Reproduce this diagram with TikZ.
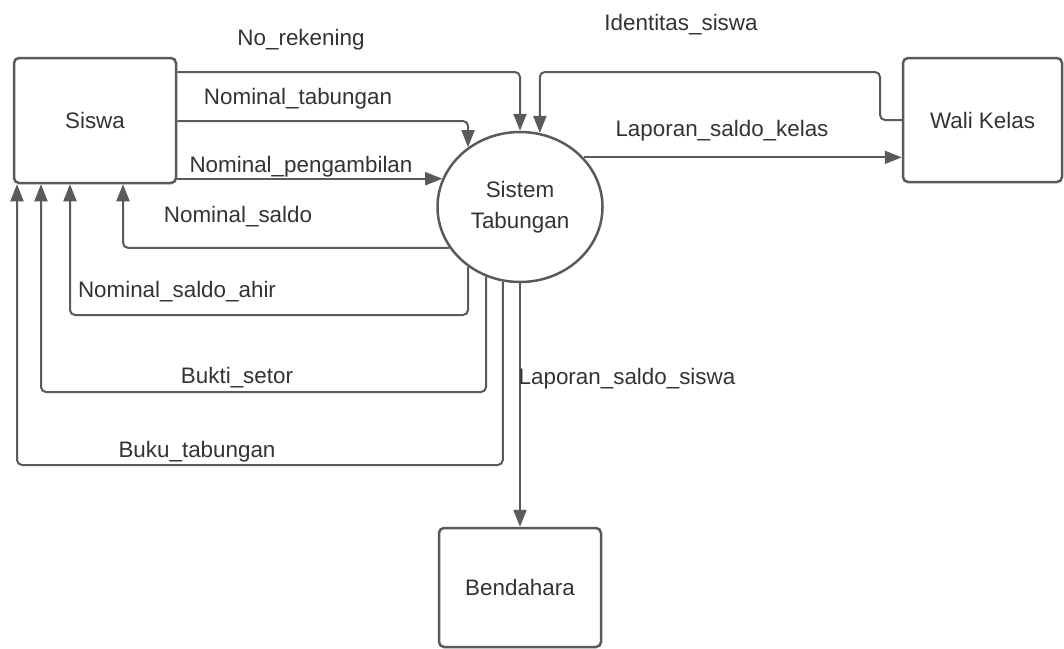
\documentclass[tikz,border=0pt]{standalone}
\usepackage{fontspec}
\setmainfont{Liberation Sans}
\usepackage{tikz}
\usetikzlibrary{arrows.meta,positioning,shapes.geometric}
\definecolor{linegray}{HTML}{5A5A5A}
\definecolor{textgray}{HTML}{333333}

\begin{document}
\begin{tikzpicture}[
  x=1pt,y=-1pt,
  font=\fontsize{22.4}{31}\selectfont,
  text=textgray,
  ent/.style={draw=linegray,line width=2.5pt,rounded corners=5pt,inner sep=0pt},
  proc/.style={ellipse,draw=linegray,line width=2.5pt,minimum width=165pt,minimum height=150pt,inner sep=0pt,align=center},
  lbl/.style={inner sep=0pt},
  arr/.style={-{Triangle[length=17pt,width=13pt]},line width=2pt,draw=linegray,rounded corners=5pt}
]
\useasboundingbox (0,0) rectangle (1064,648);

% entitas dan proses
\node[ent,minimum width=162pt,minimum height=125pt] (siswa) at (95,120.5) {Siswa};
\node[proc] (sistem) at (520,207) {Sistem\\Tabungan};
\node[ent,minimum width=159pt,minimum height=124pt] (wali) at (982.5,120) {Wali Kelas};
\node[ent,minimum width=162pt,minimum height=119pt] (bend) at (520,587.5) {Bendahara};

% aliran data
\draw[arr] (siswa.east |- 0,72) -| (sistem.north);
\draw[arr] (wali.west |- 0,120) -| (880,72) -| (sistem.75);
\draw[arr] (siswa.east |- 0,121) -| (sistem.131);
\draw[arr] (siswa.east |- sistem.160.6) -- (sistem.160.6);
\draw[arr] (sistem.210) -| (siswa.south -| 123,0);
\draw[arr] (sistem.229) |- (70,315) -- (siswa.south -| 70,0);
\draw[arr] (sistem.244.3) |- (41,392) -- (siswa.south -| 41,0);
\draw[arr] (sistem.257.7) |- (17,465) -- (siswa.south -| 17,0);
\draw[arr] (sistem.south) -- (bend.north);
\draw[arr] (sistem.38.3) -- (sistem.38.3 -| wali.west);

% label aliran
\node[lbl] (lrek) at (301,40) {No\_rekening};
\node[lbl] (lid) at (681,25) {Identitas\_siswa};
\node[lbl] (ltab) at (298,99) {Nominal\_tabungan};
\node[lbl] (lamb) at (301,167) {Nominal\_pengambilan};
\node[lbl] (lsal) at (238,217) {Nominal\_saldo};
\node[lbl] (lahir) at (177,292) {Nominal\_saldo\_ahir};
\node[lbl] (lbukti) at (237,378) {Bukti\_setor};
\node[lbl] (lbuku) at (197,452) {Buku\_tabungan};
\node[lbl] (lsiswa) at (627,379) {Laporan\_saldo\_siswa};
\node[lbl] (lkelas) at (722,131) {Laporan\_saldo\_kelas};
\end{tikzpicture}
\end{document}
